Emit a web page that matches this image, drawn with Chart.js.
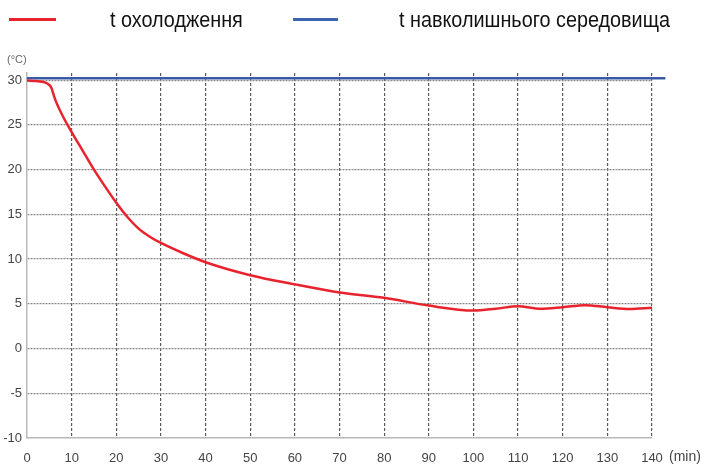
<!DOCTYPE html>
<html>
<head>
<meta charset="utf-8">
<script src="https://cdn.jsdelivr.net/npm/chart.js@4/dist/chart.umd.min.js"></script>
<style>
  html, body { margin: 0; padding: 0; background: #fff; }
  #wrap { position: relative; width: 702px; height: 468px; overflow: hidden; }
  #chart { position: absolute; left: 0; top: 0; }
  .leg { position: absolute; font-family: "Liberation Sans", Arial, sans-serif; font-size: 22px; color: #111; line-height: 1; white-space: nowrap; transform: scaleX(0.9); transform-origin: 0 0; }
  .swatch { position: absolute; height: 3px; }
</style>
</head>
<body>
<div id="wrap">
  <canvas id="chart" width="702" height="468"></canvas>
  <div class="swatch" style="left:9px; top:18px; width:47px; background:#e8232d;"></div>
  <div class="leg" style="left:110px; top:9px;">t охолодження</div>
  <div class="swatch" style="left:293px; top:18px; width:45px; background:#3a64b0;"></div>
  <div class="leg" style="left:399px; top:9px;">t навколишнього середовища</div>
</div>
<script>
// data
var coolMinutes = [0, 2, 4, 5, 5.5, 6, 6.5, 8, 10, 12.5, 15, 17.5, 20, 22.5, 25, 27.5, 30, 35, 40, 50, 60, 70, 80, 90, 100, 105, 110, 115, 120, 125, 130, 135, 140]
var coolTemps = [29.95, 29.9, 29.75, 29.45, 29.1, 28.3, 27.6, 26.0, 24.2, 22.1, 20.0, 18.1, 16.3, 14.7, 13.4, 12.5, 11.8, 10.65, 9.65, 8.2, 7.17, 6.27, 5.67, 4.8, 4.25, 4.45, 4.73, 4.45, 4.62, 4.85, 4.62, 4.42, 4.55]
var ambientMinutes = [0, 143]
var ambientTemps = [30.2, 30.2]
var xTicks = [0, 10, 20, 30, 40, 50, 60, 70, 80, 90, 100, 110, 120, 130, 140]
var yTicks = [-10, -5, 0, 5, 10, 15, 20, 25, 30]

var tickFont = { family: '"Liberation Sans", Arial, sans-serif', size: 13 }

function toPoints(xs, ys) {
  return xs.map(function (x, i) { return { x: x, y: ys[i] } })
}

// unit labels next to the axes
var unitLabels = {
  id: 'unitLabels',
  afterDraw: function (chart) {
    var ctx = chart.ctx
    var area = chart.chartArea
    ctx.save()
    ctx.fillStyle = '#666'
    ctx.font = '11px ' + tickFont.family
    ctx.textAlign = 'left'
    ctx.textBaseline = 'middle'
    ctx.fillText('(°C)', 7, 60)
    ctx.font = '14px ' + tickFont.family
    ctx.fillStyle = '#444'
    ctx.fillText('(min)', area.right + 17, 457)
    ctx.restore()
  }
}

var ctx = document.getElementById('chart').getContext('2d')
var chart = new Chart(ctx, {
  type: 'line',
  data: {
    datasets: [
      {
        label: 't охолодження',
        data: toPoints(coolMinutes, coolTemps),
        borderColor: '#e8232d',
        borderWidth: 2.5,
        pointRadius: 0,
        cubicInterpolationMode: 'monotone',
        fill: false
      },
      {
        label: 't навколишнього середовища',
        data: toPoints(ambientMinutes, ambientTemps),
        borderColor: '#3a5aa8',
        borderWidth: 2.5,
        pointRadius: 0,
        clip: false,
        fill: false
      }
    ]
  },
  options: {
    responsive: false,
    animation: false,
    layout: { padding: { top: 73, right: 50, left: 0, bottom: 0 } },
    plugins: {
      legend: { display: false },
      tooltip: { enabled: false }
    },
    scales: {
      x: {
        type: 'linear',
        min: 0,
        max: 140,
        afterFit: function (scale) { scale.height = 30 },
        afterBuildTicks: function (scale) {
          scale.ticks = xTicks.map(function (v) { return { value: v } })
        },
        ticks: { color: '#444', font: tickFont, padding: 13, maxRotation: 0, autoSkip: false },
        grid: {
          color: function (c) { return c.tick && c.tick.value === 0 ? 'rgba(0,0,0,0)' : '#5a5a5a' },
          lineWidth: 1.2,
          drawTicks: false
        },
        border: { display: true, color: '#b8b8b8', width: 1.5, dash: [3, 2] }
      },
      y: {
        min: -10,
        max: 30.8,
        afterFit: function (scale) { scale.width = 27 },
        afterBuildTicks: function (scale) {
          scale.ticks = yTicks.map(function (v) { return { value: v } })
        },
        ticks: { color: '#444', font: tickFont, padding: 5 },
        grid: {
          color: function (c) { return c.tick && c.tick.value === -10 ? 'rgba(0,0,0,0)' : '#888' },
          lineWidth: 1.3,
          drawTicks: false
        },
        border: { display: true, color: '#b8b8b8', width: 1.5, dash: [2, 1] }
      }
    }
  },
  plugins: [unitLabels]
})
</script>
</body>
</html>
